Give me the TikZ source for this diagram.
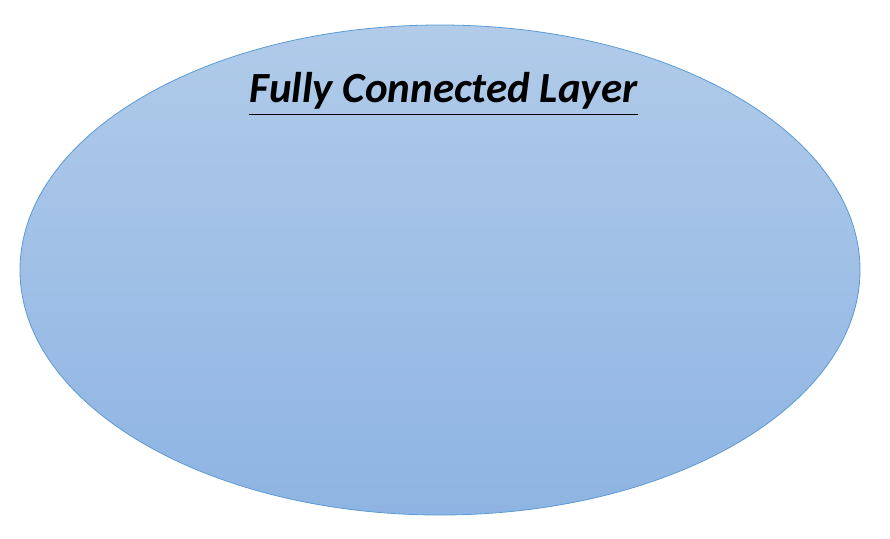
\documentclass[tikz,border=0pt]{standalone}
\usepackage{fontspec}
\setmainfont{Carlito}
\usetikzlibrary{calc,shapes.geometric}
\definecolor{elltop}{HTML}{B1CBE9}
\definecolor{ellbot}{HTML}{8EB4E3}
\definecolor{ellline}{HTML}{5B9BD5}
\tikzset{
  layerell/.style={ellipse, draw=ellline, line width=0.8pt, top color=elltop, bottom color=ellbot, minimum width=840pt, minimum height=490pt, inner sep=0pt},
  titletext/.style={inner sep=0pt, font=\fontsize{43}{52}\selectfont\bfseries\itshape},
  underl/.style={line width=1pt, black}
}
\begin{document}
\begin{tikzpicture}[x=1pt,y=-1pt]
\useasboundingbox (0,0) rectangle (890,538);
\node[layerell] (ell) at (440,270) {};
\node[titletext, anchor=base] (title) at (443.5,102) {Fully Connected Layer};
\coordinate (ul) at ($(title.base west)+(0,12)$);
\coordinate (ur) at ($(title.base east)+(0,12)$);
\draw[underl] (ul) -- (ur);
\end{tikzpicture}
\end{document}
